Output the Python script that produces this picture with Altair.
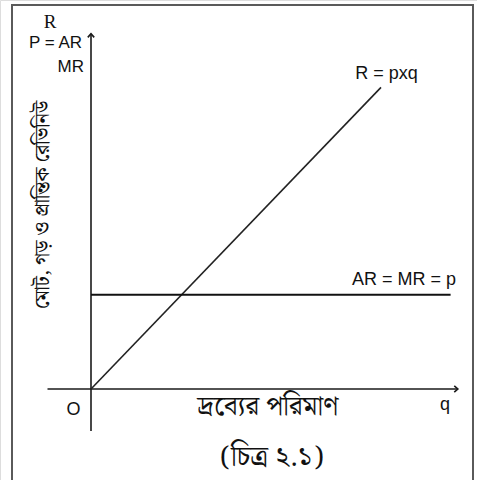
import altair as alt
import pandas as pd

# Quantity (q) and revenue (R) in schematic units
rev_q = [0, 10]          # total revenue line R = p x q
rev_r = [0, 10.4]
price = 3.25             # AR = MR = p (horizontal line)
price_q = [0, 12.4]

# Axis extents, in the same units
yaxis_q = [0, 0]
yaxis_r = [-1.45, 12.25]
xaxis_q = [-1.5, 12.65]
xaxis_r = [0, 0]

BENGALI = "Noto Serif Bengali, Noto Sans Bengali, Lohit Bengali, FreeSerif, serif"
SANS = "Liberation Sans, Arial, sans-serif"

UNIT = 29.0
ORIGIN_X, ORIGIN_Y = 91.0, 389.0
W, H = 477, 480

xs = alt.Scale(domain=[-ORIGIN_X / UNIT, (W - ORIGIN_X) / UNIT], nice=False, zero=False)
ys = alt.Scale(domain=[(ORIGIN_Y - H) / UNIT, ORIGIN_Y / UNIT], nice=False, zero=False)


def X(field):
    return alt.X(f"{field}:Q", scale=xs, axis=None)


def Y(field):
    return alt.Y(f"{field}:Q", scale=ys, axis=None)


frame = alt.Chart(pd.DataFrame({"a": [0]})).mark_rect(
    fill=None, stroke="#5a5a5a", strokeWidth=2
).encode(x=alt.value(12), x2=alt.value(473), y=alt.value(5), y2=alt.value(495))

axes_df = pd.DataFrame({
    "q": yaxis_q + xaxis_q,
    "r": yaxis_r + xaxis_r,
    "axis": ["y", "y", "x", "x"],
})
axes = alt.Chart(axes_df).mark_line(color="#1a1a1a", strokeWidth=1.6).encode(
    x=X("q"), y=Y("r"), detail="axis:N"
)

up_head = alt.Chart(pd.DataFrame({"q": [yaxis_q[1]], "r": [yaxis_r[1]]})).mark_point(
    shape="M-0.8,0.9L0,0L0.8,0.9", filled=False, stroke="#1a1a1a", strokeWidth=1.6, size=64, opacity=1
).encode(x=X("q"), y=Y("r"))

right_head = alt.Chart(pd.DataFrame({"q": [xaxis_q[1]], "r": [xaxis_r[1]]})).mark_point(
    shape="M-0.9,-0.8L0,0L-0.9,0.8", filled=False, stroke="#1a1a1a", strokeWidth=1.6, size=64, opacity=1
).encode(x=X("q"), y=Y("r"))

revenue = alt.Chart(pd.DataFrame({"q": rev_q, "r": rev_r})).mark_line(
    color="#222222", strokeWidth=1.6
).encode(x=X("q"), y=Y("r"))

ar_line = alt.Chart(pd.DataFrame({"q": price_q, "r": [price, price]})).mark_line(
    color="#111111", strokeWidth=2
).encode(x=X("q"), y=Y("r"))


def label(text, q, r, size, font, align="center", baseline="alphabetic", angle=0):
    return alt.Chart(pd.DataFrame({"q": [q], "r": [r], "t": [text]})).mark_text(
        text=text, fontSize=size, font=font, align=align, baseline=baseline,
        angle=angle, color="#111111"
    ).encode(x=X("q"), y=Y("r"))


labels = [
    label("R", -1.41, 12.45, 19, "Liberation Serif, Times New Roman, serif"),
    label("P = AR", -0.31, 11.76, 17, SANS, align="right"),
    label("MR", -0.24, 10.93, 17, SANS, align="right"),
    label("R = pxq", 10.19, 10.69, 18, SANS),
    label("AR = MR = p", 12.59, 3.59, 18, SANS, align="right"),
    label("O", -0.6, -0.9, 18, SANS),
    label("q", 12.21, -0.72, 18, SANS),
    label("দ্রব্যের পরিমাণ", 6.1, -0.62, 27, BENGALI, baseline="middle"),
    label("(চিত্র ২.১)", 6.24, -2.38, 28, BENGALI, baseline="middle"),
    label("মোট, গড় ও প্রান্তিক রেভিনিউ", -1.66, 6.35, 20, BENGALI, baseline="middle", angle=270),
]

chart = alt.layer(frame, axes, up_head, right_head, revenue, ar_line, *labels).properties(
    width=W, height=H, padding=0, autosize=alt.AutoSizeParams(type="none")
).configure_view(stroke=None).configure(background="white")

chart.save("out.html", embed_options={"renderer": "svg", "actions": False})
